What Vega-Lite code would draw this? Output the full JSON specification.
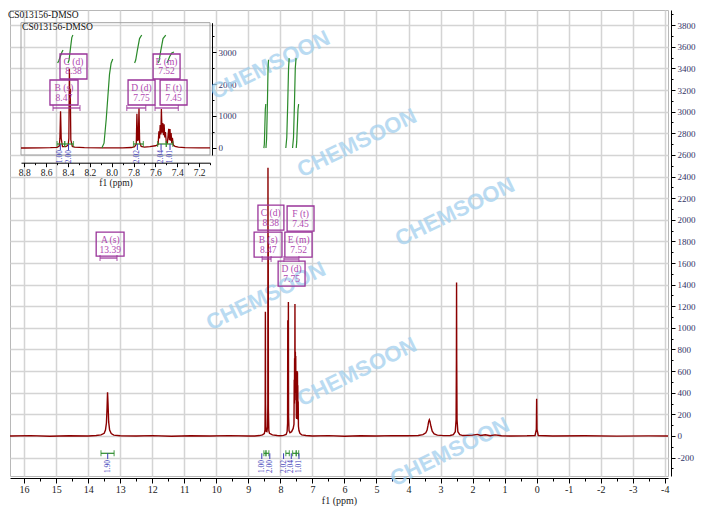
{
"$schema":"https://vega.github.io/schema/vega-lite/v6.json",
"width":658,"height":466,"autosize":"none",
"padding":{"left":10,"top":10,"right":55,"bottom":38},
"background":"white",
"config":{"view":{"stroke":"#b8b8b8","strokeWidth":1},"font":"Liberation Serif","axis":{"labelFont":"Liberation Serif","titleFont":"Liberation Serif","titleFontWeight":"normal"}},
"datasets":{
"spec":[{"ppm":16.44,"val":0},{"ppm":15.8,"val":3},{"ppm":15.2,"val":-2},{"ppm":14.6,"val":2},{"ppm":14.0,"val":0},{"ppm":13.75,"val":4},{"ppm":13.6,"val":10},{"ppm":13.5,"val":25},{"ppm":13.46,"val":55},{"ppm":13.43,"val":120},{"ppm":13.41,"val":260},{"ppm":13.395,"val":405},{"ppm":13.38,"val":300},{"ppm":13.36,"val":130},{"ppm":13.33,"val":55},{"ppm":13.28,"val":22},{"ppm":13.2,"val":8},{"ppm":13.0,"val":2},{"ppm":12.5,"val":0},{"ppm":12.0,"val":3},{"ppm":11.4,"val":-2},{"ppm":10.8,"val":2},{"ppm":10.2,"val":0},{"ppm":9.6,"val":3},{"ppm":9.0,"val":0},{"ppm":8.83,"val":0},{"ppm":8.8,"val":0},{"ppm":8.65,"val":4},{"ppm":8.56,"val":10},{"ppm":8.5,"val":22},{"ppm":8.48,"val":60},{"ppm":8.474,"val":300},{"ppm":8.468,"val":1150},{"ppm":8.462,"val":300},{"ppm":8.45,"val":45},{"ppm":8.42,"val":40},{"ppm":8.398,"val":90},{"ppm":8.392,"val":300},{"ppm":8.387,"val":2480},{"ppm":8.383,"val":1500},{"ppm":8.379,"val":1850},{"ppm":8.374,"val":250},{"ppm":8.36,"val":50},{"ppm":8.34,"val":25},{"ppm":8.25,"val":10},{"ppm":8.1,"val":4},{"ppm":8.0,"val":2},{"ppm":7.9,"val":6},{"ppm":7.82,"val":15},{"ppm":7.79,"val":40},{"ppm":7.775,"val":120},{"ppm":7.769,"val":1070},{"ppm":7.762,"val":220},{"ppm":7.756,"val":260},{"ppm":7.75,"val":1240},{"ppm":7.744,"val":180},{"ppm":7.73,"val":50},{"ppm":7.7,"val":30},{"ppm":7.65,"val":40},{"ppm":7.6,"val":70},{"ppm":7.575,"val":110},{"ppm":7.568,"val":520},{"ppm":7.562,"val":300},{"ppm":7.556,"val":720},{"ppm":7.55,"val":420},{"ppm":7.545,"val":1220},{"ppm":7.539,"val":480},{"ppm":7.532,"val":780},{"ppm":7.526,"val":400},{"ppm":7.52,"val":740},{"ppm":7.514,"val":330},{"ppm":7.508,"val":500},{"ppm":7.5,"val":170},{"ppm":7.49,"val":160},{"ppm":7.478,"val":600},{"ppm":7.472,"val":240},{"ppm":7.466,"val":590},{"ppm":7.461,"val":230},{"ppm":7.456,"val":470},{"ppm":7.45,"val":150},{"ppm":7.444,"val":320},{"ppm":7.436,"val":90},{"ppm":7.42,"val":50},{"ppm":7.39,"val":25},{"ppm":7.33,"val":10},{"ppm":7.2,"val":4},{"ppm":7.1,"val":2},{"ppm":7.0,"val":0},{"ppm":6.5,"val":3},{"ppm":6.0,"val":-2},{"ppm":5.5,"val":2},{"ppm":5.0,"val":0},{"ppm":4.5,"val":3},{"ppm":4.0,"val":2},{"ppm":3.7,"val":5},{"ppm":3.55,"val":12},{"ppm":3.46,"val":30},{"ppm":3.42,"val":55},{"ppm":3.39,"val":100},{"ppm":3.37,"val":135},{"ppm":3.35,"val":150},{"ppm":3.33,"val":135},{"ppm":3.3,"val":90},{"ppm":3.26,"val":45},{"ppm":3.2,"val":20},{"ppm":3.1,"val":8},{"ppm":2.9,"val":3},{"ppm":2.7,"val":5},{"ppm":2.6,"val":12},{"ppm":2.54,"val":40},{"ppm":2.515,"val":150},{"ppm":2.505,"val":700},{"ppm":2.5,"val":1420},{"ppm":2.495,"val":700},{"ppm":2.485,"val":150},{"ppm":2.46,"val":40},{"ppm":2.4,"val":12},{"ppm":2.3,"val":4},{"ppm":2.0,"val":8},{"ppm":1.85,"val":15},{"ppm":1.75,"val":5},{"ppm":1.6,"val":12},{"ppm":1.45,"val":3},{"ppm":1.3,"val":10},{"ppm":1.1,"val":2},{"ppm":0.8,"val":0},{"ppm":0.3,"val":2},{"ppm":0.05,"val":5},{"ppm":0.01,"val":60},{"ppm":0.0,"val":345},{"ppm":-0.01,"val":60},{"ppm":-0.05,"val":5},{"ppm":-0.5,"val":0},{"ppm":-1.5,"val":2},{"ppm":-2.5,"val":-1},{"ppm":-3.5,"val":1},{"ppm":-4.1,"val":0}],
"mint":[{"g":1,"ppm":8.515,"val":2663},{"g":1,"ppm":8.5,"val":2700},{"g":1,"ppm":8.485,"val":2860},{"g":1,"ppm":8.47,"val":3020},{"g":1,"ppm":8.455,"val":3070},
{"g":2,"ppm":8.45,"val":2663},{"g":2,"ppm":8.43,"val":2750},{"g":2,"ppm":8.405,"val":3070},{"g":2,"ppm":8.385,"val":3400},{"g":2,"ppm":8.37,"val":3480},
{"g":3,"ppm":7.83,"val":2663},{"g":3,"ppm":7.8,"val":2760},{"g":3,"ppm":7.77,"val":3080},{"g":3,"ppm":7.745,"val":3400},{"g":3,"ppm":7.725,"val":3495},
{"g":4,"ppm":7.62,"val":2663},{"g":4,"ppm":7.59,"val":2760},{"g":4,"ppm":7.56,"val":3080},{"g":4,"ppm":7.535,"val":3400},{"g":4,"ppm":7.51,"val":3495},
{"g":5,"ppm":7.505,"val":2663},{"g":5,"ppm":7.49,"val":2720},{"g":5,"ppm":7.47,"val":2870},{"g":5,"ppm":7.45,"val":3020},{"g":5,"ppm":7.43,"val":3070}],
"iint":[{"g":1,"ppm":8.495,"val":2656},{"g":1,"ppm":8.485,"val":2720},{"g":1,"ppm":8.47,"val":2860},{"g":1,"ppm":8.455,"val":3000},{"g":1,"ppm":8.445,"val":3060},
{"g":2,"ppm":8.4,"val":2656},{"g":2,"ppm":8.39,"val":2750},{"g":2,"ppm":8.378,"val":3100},{"g":2,"ppm":8.365,"val":3450},{"g":2,"ppm":8.355,"val":3530},
{"g":3,"ppm":8.09,"val":0},{"g":3,"ppm":8.07,"val":150},{"g":3,"ppm":8.05,"val":900},{"g":3,"ppm":8.035,"val":1600},{"g":3,"ppm":8.02,"val":2300},{"g":3,"ppm":8.005,"val":2650},{"g":3,"ppm":7.99,"val":2780},
{"g":4,"ppm":7.79,"val":2656},{"g":4,"ppm":7.78,"val":2750},{"g":4,"ppm":7.765,"val":3050},{"g":4,"ppm":7.745,"val":3420},{"g":4,"ppm":7.725,"val":3530},
{"g":5,"ppm":7.575,"val":2656},{"g":5,"ppm":7.565,"val":2750},{"g":5,"ppm":7.55,"val":3050},{"g":5,"ppm":7.53,"val":3420},{"g":5,"ppm":7.505,"val":3530},
{"g":6,"ppm":7.495,"val":2656},{"g":6,"ppm":7.485,"val":2720},{"g":6,"ppm":7.47,"val":2850},{"g":6,"ppm":7.45,"val":2970},{"g":6,"ppm":7.43,"val":3000}],
"mbox":[{"ppm":13.75,"ppm2":12.88,"val":1886,"val2":1664},{"ppm":8.70,"ppm2":7.89,"val":2136,"val2":1905},{"ppm":7.79,"ppm2":6.95,"val":2127,"val2":1895},{"ppm":8.82,"ppm2":7.95,"val":1886,"val2":1655},{"ppm":7.86,"ppm2":7.01,"val":1886,"val2":1655},{"ppm":8.07,"ppm2":7.23,"val":1618,"val2":1387}],
"mtxt":[{"ppm":13.31,"val":1812,"t":"A (s)"},{"ppm":13.31,"val":1724,"t":"13.39"},{"ppm":8.30,"val":2062,"t":"C (d)"},{"ppm":8.30,"val":1974,"t":"8.38"},{"ppm":7.37,"val":2053,"t":"F (t)"},{"ppm":7.37,"val":1965,"t":"7.45"},{"ppm":8.38,"val":1812,"t":"B (s)"},{"ppm":8.38,"val":1724,"t":"8.47"},{"ppm":7.43,"val":1812,"t":"E (m)"},{"ppm":7.43,"val":1724,"t":"7.52"},{"ppm":7.65,"val":1544,"t":"D (d)"},{"ppm":7.65,"val":1456,"t":"7.75"}],
"ibox":[{"ppm":8.473,"ppm2":8.226,"val":2938,"val2":2156},{"ppm":8.565,"ppm2":8.308,"val":2125,"val2":1344},{"ppm":7.621,"ppm2":7.374,"val":2938,"val2":2156},{"ppm":7.85,"ppm2":7.603,"val":2125,"val2":1344},{"ppm":7.557,"ppm2":7.31,"val":2125,"val2":1344}],
"itxt":[{"ppm":8.35,"val":2688,"t":"C (d)"},{"ppm":8.35,"val":2391,"t":"8.38"},{"ppm":8.437,"val":1875,"t":"B (s)"},{"ppm":8.437,"val":1578,"t":"8.47"},{"ppm":7.498,"val":2688,"t":"E (m)"},{"ppm":7.498,"val":2391,"t":"7.52"},{"ppm":7.727,"val":1875,"t":"D (d)"},{"ppm":7.727,"val":1578,"t":"7.75"},{"ppm":7.434,"val":1875,"t":"F (t)"},{"ppm":7.434,"val":1578,"t":"7.45"}],
"mbr":[{"ppm":13.63,"ppm2":13.10,"val":1646},{"ppm":8.57,"ppm2":8.29,"val":1637},{"ppm":7.89,"ppm2":7.42,"val":1637}],
"ibr":[{"ppm":8.537,"ppm2":8.29,"val":1250},{"ppm":7.862,"ppm2":7.688,"val":1250},{"ppm":7.603,"ppm2":7.39,"val":1250}],
"mgb":[{"ppm":13.60,"ppm2":13.19,"val":-160},{"ppm":8.515,"ppm2":8.45,"val":-160},{"ppm":8.45,"ppm2":8.36,"val":-160},{"ppm":7.83,"ppm2":7.72,"val":-160},{"ppm":7.62,"ppm2":7.505,"val":-160},{"ppm":7.505,"ppm2":7.43,"val":-160}],
"igb":[{"ppm":8.50,"ppm2":8.43,"val":125},{"ppm":8.43,"ppm2":8.35,"val":125},{"ppm":7.80,"ppm2":7.71,"val":125},{"ppm":7.58,"ppm2":7.50,"val":125},{"ppm":7.50,"ppm2":7.44,"val":125}],
"mcon":[{"ppm":13.39,"val":-160,"val2":-213},{"ppm":8.58,"val":-160,"val2":-213},{"ppm":8.33,"val":-160,"val2":-213},{"ppm":7.90,"val":-160,"val2":-213},{"ppm":7.66,"val":-160,"val2":-213},{"ppm":7.42,"val":-160,"val2":-213}],
"mlab":[{"ppm":13.39,"val":-282,"t":"1.90"},{"ppm":8.58,"val":-282,"t":"1.00"},{"ppm":8.33,"val":-282,"t":"2.00"},{"ppm":7.90,"val":-282,"t":"2.02"},{"ppm":7.66,"val":-282,"t":"2.04"},{"ppm":7.42,"val":-282,"t":"1.01"}],
"icon":[{"ppm":8.47,"val":125,"val2":-62},{"ppm":8.395,"val":125,"val2":-62},{"ppm":7.765,"val":125,"val2":-62},{"ppm":7.548,"val":125,"val2":-62},{"ppm":7.466,"val":125,"val2":-62}],
"ilab":[{"ppm":8.47,"val":-270,"t":"1.00"},{"ppm":8.395,"val":-270,"t":"2.00"},{"ppm":7.765,"val":-270,"t":"2.02"},{"ppm":7.548,"val":-270,"t":"2.04"},{"ppm":7.466,"val":-270,"t":"1.01"}],
"wm":[{"ppm":8.32,"val":3430,"t":"CHEMSOON"},{"ppm":5.61,"val":2709,"t":"CHEMSOON"},{"ppm":2.55,"val":2071,"t":"CHEMSOON"},{"ppm":8.45,"val":1294,"t":"CHEMSOON"},{"ppm":5.61,"val":592,"t":"CHEMSOON"},{"ppm":2.71,"val":-148,"t":"CHEMSOON"}],
"mttl":[{"ppm":16.44,"val":3893,"t":"CS013156-DMSO"}],
"ittl":[{"ppm":8.82,"val":3781,"t":"CS013156-DMSO"}],
"iframe":[{"ppm":8.83,"ppm2":7.10,"val":3916,"val2":-219}]
},
"layer":[
{"encoding":{
"x":{"field":"ppm","type":"quantitative","scale":{"domain":[-4.1,16.44],"reverse":true,"nice":false,"zero":false},
"axis":{"orient":"bottom","offset":2,"values":[16,15.5,15,14.5,14,13.5,13,12.5,12,11.5,11,10.5,10,9.5,9,8.5,8,7.5,7,6.5,6,5.5,5,4.5,4,3.5,3,2.5,2,1.5,1,0.5,0,-0.5,-1,-1.5,-2,-2.5,-3,-3.5,-4],"title":"f1 (ppm)","titleFontSize":10,"titlePadding":1,"titleColor":"#222","labelFontSize":10,"labelPadding":1,"labelColor":"#222","labelExpr":"datum.value % 1 === 0 ? toString(datum.value) : ''","tickSize":{"condition":{"test":"datum.value % 1 === 0","value":5},"value":3},"tickColor":"#000","domainColor":"#000","grid":true,"gridColor":"#d4d4d4","gridWidth":1.5,"gridOpacity":{"condition":{"test":"datum.value % 1 === 0","value":1},"value":0},"labelOverlap":false,"labelFlush":false}},
"y":{"field":"val","type":"quantitative","scale":{"domain":[-370,3940],"nice":false,"zero":false},
"axis":{"orient":"right","offset":3,"values":[-300,-200,-100,0,100,200,300,400,500,600,700,800,900,1000,1100,1200,1300,1400,1500,1600,1700,1800,1900,2000,2100,2200,2300,2400,2500,2600,2700,2800,2900,3000,3100,3200,3300,3400,3500,3600,3700,3800,3900],"title":null,"labelFontSize":9,"labelColor":"#333366","labelPadding":2,"labelExpr":"datum.value % 200 === 0 ? toString(datum.value) : ''","tickSize":{"condition":{"test":"datum.value % 200 === 0","value":4},"value":2},"tickColor":"#000","domainColor":"#000","grid":true,"gridColor":"#d4d4d4","gridWidth":1.5,"gridOpacity":{"condition":{"test":"datum.value % 200 === 0","value":1},"value":0},"labelOverlap":false}}},
"layer":[
{"data":{"name":"wm"},"mark":{"type":"text","font":"Liberation Sans","fontWeight":"bold","fontSize":22,"angle":334,"color":"#a3d0ee","opacity":0.75,"align":"center","baseline":"middle"},"encoding":{"text":{"field":"t"}}},
{"data":{"name":"spec"},"mark":{"type":"line","color":"#8b0000","strokeWidth":1.4}},
{"data":{"name":"mint"},"mark":{"type":"line","color":"#2a8a2a","strokeWidth":1.2},"encoding":{"detail":{"field":"g"}}},
{"data":{"name":"mgb"},"mark":{"type":"rule","color":"#2a8a2a","strokeWidth":1.2},"encoding":{"x2":{"field":"ppm2"}}},
{"data":{"name":"mgb"},"transform":[{"fold":["ppm","ppm2"],"as":["k","ppm"]}],"mark":{"type":"tick","orient":"vertical","color":"#2a8a2a","size":6,"thickness":1.2}},
{"data":{"name":"mcon"},"mark":{"type":"rule","color":"#3a3ab8","strokeWidth":1},"encoding":{"y2":{"field":"val2"}}},
{"data":{"name":"mlab"},"mark":{"type":"text","color":"#3a3ab8","fontSize":7.5,"angle":270,"align":"center","baseline":"middle"},"encoding":{"text":{"field":"t"}}},
{"data":{"name":"mbox"},"mark":{"type":"rect","filled":false,"color":"#993399","strokeWidth":1.3},"encoding":{"x2":{"field":"ppm2"},"y2":{"field":"val2"}}},
{"data":{"name":"mtxt"},"mark":{"type":"text","color":"#b048b0","fontSize":9.5,"align":"center","baseline":"middle"},"encoding":{"text":{"field":"t"}}},
{"data":{"name":"mbr"},"mark":{"type":"rule","color":"#993399","strokeWidth":1.2},"encoding":{"x2":{"field":"ppm2"}}},
{"data":{"name":"mbr"},"transform":[{"fold":["ppm","ppm2"],"as":["k","ppm"]}],"mark":{"type":"tick","orient":"vertical","color":"#993399","size":6,"thickness":1.2}},
{"data":{"name":"mttl"},"mark":{"type":"text","color":"#111","fontSize":9.5,"align":"left","baseline":"middle","dx":-2},"encoding":{"text":{"field":"t"}}}
]},
{"encoding":{
"x":{"field":"ppm","type":"quantitative","scale":{"domain":[7.1,8.83],"reverse":true,"range":[11,200],"nice":false,"zero":false},
"axis":{"orient":"bottom","offset":-313.3,"values":[8.8,8.7,8.6,8.5,8.4,8.3,8.2,8.1,8.0,7.9,7.8,7.7,7.6,7.5,7.4,7.3,7.2,7.1],"title":"f1 (ppm)","titleFontSize":9.5,"titlePadding":0,"titleColor":"#222","labelFontSize":9.5,"labelPadding":1,"labelColor":"#222","labelExpr":"round(datum.value*10) % 2 === 0 ? format(datum.value, '.1f') : ''","tickSize":{"condition":{"test":"round(datum.value*10) % 2 === 0","value":4},"value":2},"grid":false,"domainColor":"#000","tickColor":"#000","labelOverlap":false,"labelFlush":false}},
"y":{"field":"val","type":"quantitative","scale":{"domain":[-219,3916],"range":[145,12.7],"nice":false,"zero":false},
"axis":{"orient":"right","offset":-456,"values":[0,500,1000,1500,2000,2500,3000,3500],"title":null,"labelFontSize":9,"labelColor":"#333366","labelPadding":2,"labelExpr":"datum.value % 1000 === 0 ? toString(datum.value) : ''","tickSize":{"condition":{"test":"datum.value % 1000 === 0","value":4},"value":2},"grid":false,"domainColor":"#000","tickColor":"#000","labelOverlap":false}}},
"layer":[
{"data":{"name":"iframe"},"mark":{"type":"rect","filled":false,"color":"#a0a0a0","strokeWidth":1},"encoding":{"x2":{"field":"ppm2"},"y2":{"field":"val2"}}},
{"data":{"name":"spec"},"transform":[{"filter":"datum.ppm <= 8.83 && datum.ppm >= 7.1"}],"mark":{"type":"line","color":"#8b0000","strokeWidth":1.3}},
{"data":{"name":"iint"},"mark":{"type":"line","color":"#2a8a2a","strokeWidth":1.2},"encoding":{"detail":{"field":"g"}}},
{"data":{"name":"igb"},"mark":{"type":"rule","color":"#2a8a2a","strokeWidth":1.2},"encoding":{"x2":{"field":"ppm2"}}},
{"data":{"name":"igb"},"transform":[{"fold":["ppm","ppm2"],"as":["k","ppm"]}],"mark":{"type":"tick","orient":"vertical","color":"#2a8a2a","size":6,"thickness":1.2}},
{"data":{"name":"icon"},"mark":{"type":"rule","color":"#3a3ab8","strokeWidth":1},"encoding":{"y2":{"field":"val2"}}},
{"data":{"name":"ilab"},"mark":{"type":"text","color":"#3a3ab8","fontSize":7.5,"angle":270,"align":"center","baseline":"middle"},"encoding":{"text":{"field":"t"}}},
{"data":{"name":"ibox"},"mark":{"type":"rect","filled":false,"color":"#993399","strokeWidth":1.3},"encoding":{"x2":{"field":"ppm2"},"y2":{"field":"val2"}}},
{"data":{"name":"itxt"},"mark":{"type":"text","color":"#b048b0","fontSize":9.5,"align":"center","baseline":"middle"},"encoding":{"text":{"field":"t"}}},
{"data":{"name":"ibr"},"mark":{"type":"rule","color":"#993399","strokeWidth":1.2},"encoding":{"x2":{"field":"ppm2"}}},
{"data":{"name":"ibr"},"transform":[{"fold":["ppm","ppm2"],"as":["k","ppm"]}],"mark":{"type":"tick","orient":"vertical","color":"#993399","size":6,"thickness":1.2}},
{"data":{"name":"ittl"},"mark":{"type":"text","color":"#111","fontSize":9.5,"align":"left","baseline":"middle"},"encoding":{"text":{"field":"t"}}}
]}
],
"resolve":{"scale":{"x":"independent","y":"independent"}}
}
